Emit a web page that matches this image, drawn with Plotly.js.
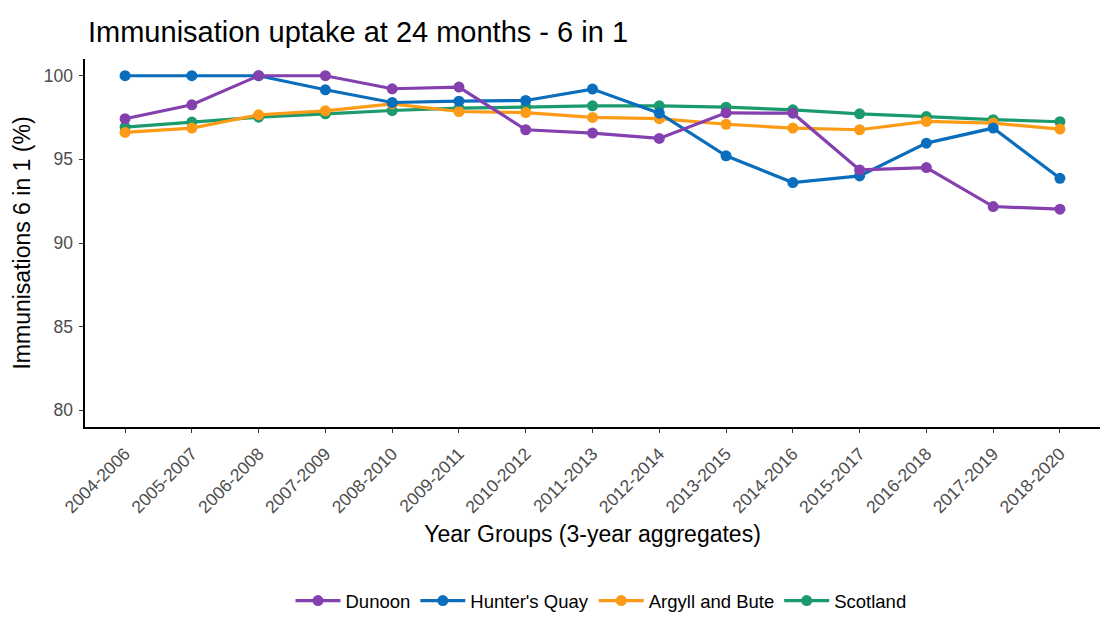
<!DOCTYPE html>
<html>
<head>
<meta charset="utf-8">
<script src="https://cdn.plot.ly/plotly-3.0.1.min.js"></script>
<style>
  html, body { margin: 0; padding: 0; background: #fff; }
  #plot { width: 1104px; height: 631px; }
</style>
</head>
<body>
<div id="plot"></div>
<script>
const yearGroups = ['2004-2006', '2005-2007', '2006-2008', '2007-2009', '2008-2010',
    '2009-2011', '2010-2012', '2011-2013', '2012-2014', '2013-2015', '2014-2016',
    '2015-2017', '2016-2018', '2017-2019', '2018-2020'];

const dunoon = [97.43, 98.26, 100, 100, 99.22, 99.32, 96.77, 96.57, 96.25, 97.78, 97.76, 94.37, 94.51, 92.18, 92.02];
const huntersQuay = [100, 100, 100, 99.16, 98.4, 98.48, 98.52, 99.2, 97.76, 95.21, 93.61, 94.01, 95.97, 96.87, 93.87];
const argyllBute = [96.61, 96.87, 97.66, 97.9, 98.32, 97.86, 97.8, 97.51, 97.43, 97.1, 96.87, 96.77, 97.27, 97.17, 96.81];
const scotland = [96.93, 97.23, 97.52, 97.72, 97.92, 98.06, 98.12, 98.2, 98.2, 98.12, 97.96, 97.72, 97.56, 97.37, 97.25];

const yTicks = [80, 85, 90, 95, 100];

const fontFam = '"Liberation Sans", Arial, sans-serif';

function makeTrace(name, vals, colour, rank) {
    return {
        x: yearGroups, y: vals, name: name,
        type: 'scatter', mode: 'lines+markers',
        line: {color: colour, width: 3.2},
        marker: {color: colour, size: 11},
        legendrank: rank,
        hoverinfo: 'x+y+name'
    };
}

// drawn back to front: Scotland first, Dunoon on top
const data = [
    makeTrace('Scotland', scotland, '#1b9a6d', 4),
    makeTrace('Argyll and Bute', argyllBute, '#fd9b17', 3),
    makeTrace("Hunter's Quay", huntersQuay, '#0a6ebd', 2),
    makeTrace('Dunoon', dunoon, '#8540b0', 1)
];

const layout = {
    width: 1104, height: 631,
    paper_bgcolor: '#fff', plot_bgcolor: '#fff',
    font: {family: fontFam, color: '#000'},
    margin: {l: 85, r: 4, t: 59, b: 204},
    title: {
        text: 'Immunisation uptake at 24 months - 6 in 1',
        font: {size: 29, color: '#000'},
        x: 88 / 1104, xref: 'container', xanchor: 'left',
        y: 1 - 32 / 631, yref: 'container', yanchor: 'middle'
    },
    xaxis: {
        type: 'category',
        range: [-0.6, 14.6],
        showgrid: false, zeroline: false,
        showline: true, linecolor: '#000', linewidth: 1.6,
        ticks: 'outside', ticklen: 4, tickcolor: '#333', tickwidth: 1,
        tickangle: -45, ticklabelstandoff: 4,
        tickfont: {size: 17.5, color: '#4d4d4d'},
        title: {text: 'Year Groups (3-year aggregates)', font: {size: 23, color: '#000'}, standoff: 10}
    },
    yaxis: {
        range: [79, 101],
        tickvals: yTicks,
        showgrid: false, zeroline: false,
        showline: true, linecolor: '#000', linewidth: 1.6,
        ticks: 'outside', ticklen: 4, tickcolor: '#333', tickwidth: 1,
        ticklabelstandoff: 3,
        tickfont: {size: 17.5, color: '#4d4d4d'},
        title: {text: 'Immunisations 6 in 1 (%)', font: {size: 23, color: '#000'}, standoff: 6}
    },
    showlegend: true,
    legend: {
        orientation: 'h',
        x: (601 - 85) / 1015, xanchor: 'center', xref: 'paper',
        y: 1 - 601 / 631, yanchor: 'middle', yref: 'container',
        font: {size: 18.5, color: '#000'},
        itemwidth: 45
    }
};

Plotly.newPlot('plot', data, layout, {displayModeBar: false, staticPlot: true});
</script>
</body>
</html>
